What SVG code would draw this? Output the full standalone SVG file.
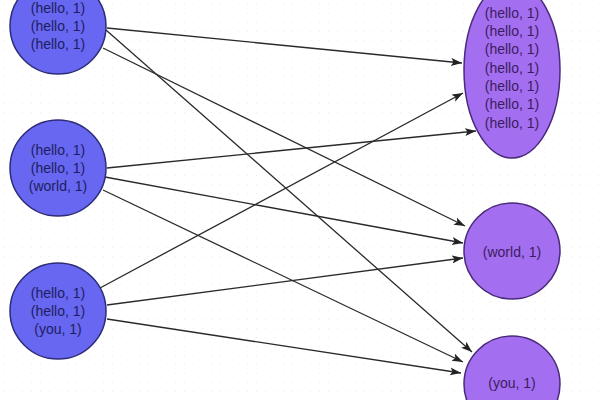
<svg xmlns="http://www.w3.org/2000/svg" width="600" height="400" viewBox="0 0 600 400">
<defs>
<pattern id="dots" width="9" height="9" patternUnits="userSpaceOnUse">
<rect x="4" y="4" width="1" height="1" fill="#ececec"/>
</pattern>
<marker id="arr" markerWidth="12" markerHeight="10" refX="11" refY="4" orient="auto" markerUnits="userSpaceOnUse">
<path d="M0,0 L11,4 L0,8 L2.5,4 Z" fill="#222"/>
</marker>
<style>
.src{fill:#6767f2;stroke:#2c2c78;stroke-width:1.5}
.dst{fill:#a46ef0;stroke:#4a2a7c;stroke-width:1.5}
.t1{font-family:"Liberation Sans",Arial,sans-serif;font-size:14px;fill:#1e1e5e;text-anchor:middle}
.t2{font-family:"Liberation Sans",Arial,sans-serif;font-size:14px;fill:#3c1c60;text-anchor:middle}
.e{stroke:#2a2a2a;stroke-width:1.3;fill:none;marker-end:url(#arr)}
</style>
</defs>
<rect width="600" height="400" fill="#ffffff"/>
<rect width="600" height="400" fill="url(#dots)"/>
<g id="connectors">
<line class="e" x1="107" y1="28" x2="462" y2="63"/>
<line class="e" x1="103" y1="48" x2="465" y2="226"/>
<line class="e" x1="106" y1="30" x2="472" y2="352"/>
<line class="e" x1="107" y1="168" x2="476" y2="131"/>
<line class="e" x1="105" y1="177" x2="463" y2="243"/>
<line class="e" x1="103" y1="190" x2="463" y2="362"/>
<line class="e" x1="100" y1="288" x2="463" y2="93"/>
<line class="e" x1="107" y1="305" x2="463" y2="258"/>
<line class="e" x1="107" y1="319" x2="461" y2="373"/>
</g>
<g id="n1">
<circle class="src" cx="58" cy="26" r="48"/>
<text class="t1" x="58" y="13">(hello, 1)</text>
<text class="t1" x="58" y="31">(hello, 1)</text>
<text class="t1" x="58" y="49">(hello, 1)</text>
</g>
<g id="n2">
<circle class="src" cx="58" cy="168" r="48"/>
<text class="t1" x="58" y="155">(hello, 1)</text>
<text class="t1" x="58" y="173">(hello, 1)</text>
<text class="t1" x="58" y="191">(world, 1)</text>
</g>
<g id="n3">
<circle class="src" cx="58" cy="311" r="48"/>
<text class="t1" x="58" y="298">(hello, 1)</text>
<text class="t1" x="58" y="316">(hello, 1)</text>
<text class="t1" x="58" y="334">(you, 1)</text>
</g>
<g id="hello">
<ellipse class="dst" cx="512" cy="70" rx="48" ry="88"/>
<text class="t2" x="512" y="18">(hello, 1)</text>
<text class="t2" x="512" y="36">(hello, 1)</text>
<text class="t2" x="512" y="54">(hello, 1)</text>
<text class="t2" x="512" y="73">(hello, 1)</text>
<text class="t2" x="512" y="91">(hello, 1)</text>
<text class="t2" x="512" y="109">(hello, 1)</text>
<text class="t2" x="512" y="128">(hello, 1)</text>
</g>
<g id="world">
<circle class="dst" cx="512" cy="251" r="48"/>
<text class="t2" x="512" y="257">(world, 1)</text>
</g>
<g id="you">
<circle class="dst" cx="512" cy="384" r="48"/>
<text class="t2" x="512" y="388">(you, 1)</text>
</g>
</svg>
